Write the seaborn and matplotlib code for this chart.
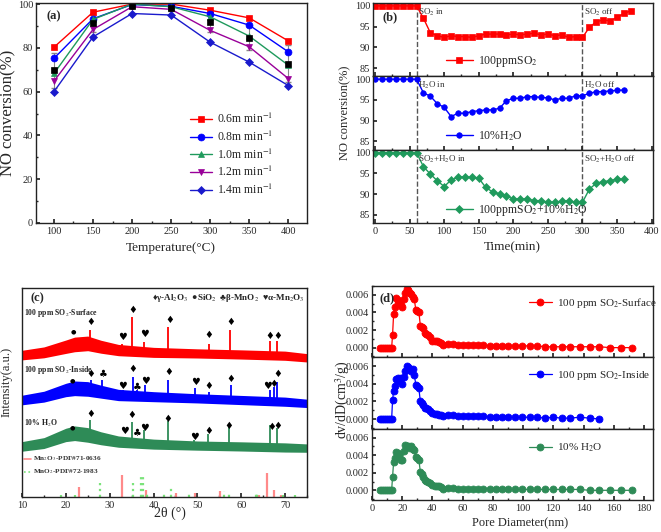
import numpy as np
import pandas as pd
import matplotlib
matplotlib.use("Agg")
import matplotlib.pyplot as plt
import seaborn as sns
from matplotlib.ticker import MultipleLocator, FormatStrFormatter

# ---------- (a) NO conversion vs temperature ----------
temps = [100, 150, 200, 250, 300, 350, 400]
conv_06 = [80.3, 96.3, 100, 100, 97.2, 93.7, 83.2]
conv_08 = [75.2, 93.3, 99.8, 99.0, 95.7, 90.4, 78.2]
conv_10 = [68.3, 93.0, 100, 98.8, 94.2, 85.4, 72.1]
conv_12 = [64.8, 88.4, 98.8, 97.6, 88.0, 80.5, 66.0]
conv_14 = [60.0, 85.0, 95.7, 95.0, 82.6, 73.5, 62.8]
conv_avg = [69.7, 91.2, 99.0, 98.2, 91.9, 84.6, 72.7]
err_avg = [8, 4, 1, 1.5, 4.5, 5.5, 8.5]
flow_labels = ["0.6m min$^{-1}$", "0.8m min$^{-1}$", "1.0m min$^{-1}$",
               "1.2m min$^{-1}$", "1.4m min$^{-1}$"]

# ---------- (b) NO conversion vs time ----------
time_min = list(range(0, 380, 10))
so2_conv = [100, 100, 100, 100, 100, 100, 100, 97.0, 93.5, 92.8, 92.4, 92.8,
            92.6, 92.6, 92.4, 92.8, 93.2, 93.2, 93.2, 93.0, 93.2, 93.0, 93.2,
            93.4, 93.0, 93.2, 92.8, 93.0, 92.4, 92.6, 92.4, 94.8, 96.2, 96.6,
            96.4, 97.2, 98.2, 98.8]
h2o_conv = [100, 100, 100, 100, 100, 100, 100, 96.7, 95.9, 94.1, 93.2, 91.0,
            91.8, 91.8, 92.2, 92.4, 92.6, 92.6, 93.0, 94.8, 95.4, 95.4, 95.8,
            95.8, 95.6, 95.5, 95.0, 95.4, 95.4, 96.0, 96.0, 96.6, 97.0, 97.0,
            97.2, 97.3, 97.4]
mix_conv = [100, 100, 100, 100, 100, 100, 100, 96.6, 94.8, 93.2, 91.8, 93.4,
            94.0, 94.2, 94.0, 93.8, 91.6, 90.5, 90.0, 89.5, 88.8, 88.8, 88.8,
            88.4, 88.4, 88.0, 88.0, 88.2, 88.4, 88.0, 88.0, 91.2, 92.6, 93.0,
            93.2, 93.6, 93.6]

# ---------- (c) XRD ----------
xrd_x = [10, 15, 20, 22, 25, 28, 32, 40, 50, 60, 70, 75]
surf_mid = [67.9, 69.2, 71.9, 73.0, 73.5, 71.9, 70.3, 69.2, 68.7, 68.2, 67.6, 66.6]
inside_mid = [46.4, 48.0, 51.2, 52.0, 51.7, 50.4, 48.8, 48.0, 47.2, 46.4, 45.6, 44.8]
h2o_mid = [24.2, 25.8, 29.7, 30.5, 29.7, 28.1, 26.5, 25.3, 24.6, 24.2, 23.7, 23.4]
band_half = [2.3, 2.6, 3.2, 3.5, 3.5, 3.1, 2.7, 2.4, 2.2, 2.2, 2.2, 2.0]

surf_peak_x = [21.8, 25.6, 32.9, 35.2, 37.8, 43.3, 52.6, 57.4, 66.5, 68.1]
surf_peak_top = [75.5, 80.0, 73.4, 86.2, 74.0, 81.4, 73.4, 79.8, 74.6, 74.6]
inside_peak_x = [21.8, 25.8, 28.3, 33.0, 35.4, 36.3, 38.0, 43.4, 49.4, 52.7,
                 57.6, 66.5, 67.4, 68.2]
inside_peak_top = [54.4, 56.0, 56.0, 51.2, 57.6, 51.0, 53.6, 56.0, 52.3, 50.4,
                   53.6, 51.2, 52.8, 55.2]
h2o_peak_x = [21.8, 25.5, 35.1, 37.8, 43.2, 49.3, 52.5, 57.3, 66.5, 68.1]
h2o_peak_top = [31.0, 36.9, 36.1, 32.1, 36.4, 27.3, 30.2, 34.5, 34.5, 32.9]

mn2o3_ref_x = [23.1, 32.9, 38.2, 45.2, 49.4, 55.2, 64.0, 65.8, 67.4, 69.0]
mn2o3_ref_h = [5.0, 10.5, 3.5, 1.8, 2.0, 2.7, 1.0, 11.5, 3.5, 0.8]
mno2_ref_x = [19.0, 22.2, 27.7, 35.3, 37.2, 37.5, 38.6, 42.3, 43.9, 48.0,
              56.0, 57.2, 63.3, 63.7, 69.5, 72.3]
mno2_ref_h = [1.0, 1.0, 7.3, 7.0, 10.0, 10.5, 1.5, 2.5, 5.5, 1.5, 3.0, 2.0,
              2.0, 1.5, 0.8, 1.0]

al2o3_mark = [(25.7, 83.5), (35.2, 89.7), (43.6, 84.9), (52.7, 77.4), (57.7, 83.5),
              (66.6, 77.1), (68.3, 77.0), (25.7, 59.0), (35.2, 61.4), (43.4, 59.6),
              (52.7, 53.3), (57.5, 56.4), (67.3, 54.1), (68.3, 58.7), (25.6, 39.7),
              (35.1, 39.0), (43.3, 37.4), (52.5, 31.6), (57.2, 34.0), (67.0, 33.7),
              (68.3, 34.2)]
sio2_mark = [(21.8, 79.0), (21.6, 55.5), (21.6, 33.2)]
mno2_mark = [(28.5, 58.7), (36.2, 52.8), (36.2, 30.5)]
mn2o3_mark = [(32.9, 76.6), (38.0, 78.2), (33.0, 53.3), (38.1, 55.6), (49.6, 54.8),
              (66.1, 52.9), (33.3, 31.8), (37.9, 33.2), (49.3, 28.6)]

# ---------- (d) pore size distribution ----------
pore_d = [5.5, 6.9, 8.2, 9.5, 10.8, 12.1, 13.0,
          13.6, 14.3, 15, 16, 17, 18, 19, 20, 21, 22, 23, 24, 25, 26, 27, 28,
          29, 30, 31, 32, 33, 34, 35, 36, 37, 38.5, 40, 41.5, 43, 44.5, 46,
          47, 50.4, 53.7, 57, 60.3, 63.6, 67, 70.2, 73.6, 78, 82.4, 86, 90,
          94.5, 99.5, 104.5, 109.5, 114.5, 120, 125.5, 131, 137.5, 144, 150.5,
          157.5, 165, 172]
dvdd_surface = [0, 0, 0, 0, 0, 0, 0,
                0.0014, 0.0038, 0.0046, 0.0056, 0.0054, 0.0052, 0.0048, 0.0046,
                0.0055, 0.0062, 0.0067, 0.0065, 0.0062, 0.0061, 0.0058, 0.0055,
                0.0043, 0.0042, 0.0041, 0.0025, 0.0023, 0.0022, 0.0017, 0.0016,
                0.0014, 0.0012, 0.0008, 0.0008, 0.0007, 0.0006, 0.0005,
                0.0003, 0.0004, 0.0004, 0.0003, 0.0003, 0.0003, 0.0003, 0.0003,
                0.0003, 0.0002, 0.0002, 0.0002, 0.0002, 0.0002, 0.0002, 0.0002,
                0.0002, 0.0001, 0.0001, 0.0001, 0.0001, 0.0001, 0.0001, 0.0001,
                0.0000, 0.0000, 0.0000]
dvdd_inside = [0, 0, 0, 0, 0, 0, 0,
               0.0021, 0.0032, 0.0038, 0.0045, 0.0046, 0.0043, 0.0046, 0.0040,
               0.0048, 0.0054, 0.0060, 0.0059, 0.0057, 0.0055, 0.0057, 0.0050,
               0.0039, 0.0038, 0.0035, 0.0020, 0.0018, 0.0016, 0.0013, 0.0012,
               0.0011, 0.0009, 0.0007, 0.0006, 0.0006, 0.0005, 0.0005,
               0.0003, 0.0004, 0.0004, 0.0003, 0.0003, 0.0003, 0.0003, 0.0003,
               0.0003, 0.0002, 0.0002, 0.0002, 0.0002, 0.0002, 0.0002, 0.0002,
               0.0002, 0.0001, 0.0002, 0.0001, 0.0001, 0.0002, 0.0001, 0.0000]
dvdd_h2o = [0, 0, 0, 0, 0, 0, 0,
            0.0015, 0.0032, 0.0037, 0.0044, 0.0042, 0.0040, 0.0034, 0.0034,
            0.0045, 0.0051, 0.0050, 0.0050, 0.0048, 0.0050, 0.0047, 0.0046,
            0.0038, 0.0037, 0.0035, 0.0021, 0.0018, 0.0015, 0.0012, 0.0011,
            0.0010, 0.0008, 0.0006, 0.0005, 0.0005, 0.0005, 0.0004,
            0.0002, 0.0003, 0.0003, 0.0002, 0.0002, 0.0002, 0.0002, 0.0002,
            0.0002, 0.0002, 0.0001, 0.0001, 0.0001, 0.0001, 0.0001, 0.0001,
            0.0001, 0.0001, 0.0001, 0.0001, 0.0001, 0.0001, 0.0000, 0.0000,
            0.0000, 0.0000, 0.0000]

RED, BLUE, GREEN, PURPLE, NAVY = "#ff0000", "#0000ff", "#1f9a5c", "#990099", "#1a1acc"

sns.set_theme(style="ticks")
plt.rcParams["font.family"] = ["Liberation Serif", "DejaVu Sans"]
plt.rcParams.update({
    "mathtext.fontset": "stix",
    "axes.linewidth": 1.0,
    "axes.edgecolor": "#222222",
    "xtick.direction": "in", "ytick.direction": "in",
    "xtick.major.size": 3, "ytick.major.size": 3,
    "xtick.minor.size": 1.6, "ytick.minor.size": 1.6,
    "xtick.labelsize": 7.5, "ytick.labelsize": 7.5,
    "xtick.major.pad": 3, "ytick.major.pad": 2,
})

W, H = 661, 532
fig = plt.figure(figsize=(W / 100, H / 100), dpi=100)


def px_axes(left, top, right, bottom):
    return fig.add_axes([left / W, 1 - bottom / H, (right - left) / W, (bottom - top) / H])


def series(ax, x, y, color, marker, ms, label=None, lw=1.0):
    sns.lineplot(x=x, y=y, ax=ax, color=color, marker=marker, markersize=ms,
                 markeredgecolor=color, markeredgewidth=0.5, linewidth=lw,
                 label=label, legend=False)


# ===== (a) =====
ax = px_axes(36, 3, 307, 223)
ax.errorbar(temps, conv_avg, yerr=err_avg, fmt="none", ecolor="#888888",
            elinewidth=0.8, capsize=2, zorder=1)
series(ax, temps, conv_06, RED, "s", 4.5, flow_labels[0])
series(ax, temps, conv_08, BLUE, "o", 5, flow_labels[1])
series(ax, temps, conv_10, GREEN, "^", 5, flow_labels[2])
series(ax, temps, conv_12, PURPLE, "v", 5, flow_labels[3])
series(ax, temps, conv_14, NAVY, "D", 4, flow_labels[4])
series(ax, temps, conv_avg, "#000000", "s", 4.5, None, lw=0)
ax.set_xlim(77, 424)
ax.set_ylim(0, 100.5)
ax.xaxis.set_major_locator(MultipleLocator(50))
ax.xaxis.set_minor_locator(MultipleLocator(25))
ax.yaxis.set_major_locator(MultipleLocator(20))
ax.yaxis.set_minor_locator(MultipleLocator(10))
ax.set_xlabel("")
ax.set_ylabel("")
ax.legend(loc="upper left", bbox_to_anchor=(0.53, 0.555), frameon=False,
          fontsize=8.5, handlelength=1.8, labelspacing=0.3, handletextpad=0.5)
ax.text(0.04, 0.94, "(a)", transform=ax.transAxes, fontsize=9, fontweight="bold",
        va="center")
fig.text(8 / W, 1 - 113 / H, "NO conversion(%)", rotation=90, fontsize=12,
         ha="center", va="center")
fig.text(171 / W, 1 - 248 / H, "Temperature(\u00b0C)", fontsize=9.5, ha="center",
         va="center")

# ===== (b) =====
b_rows = [(3, 76.3), (76.3, 149.7), (149.7, 223)]
b_data = [
    (so2_conv, RED, "s", 3.8, "100ppmSO$_2$", "SO$_2$ in", "SO$_2$ off", 0.20),
    (h2o_conv, BLUE, "o", 4, "10%H$_2$O", "H$_2$O in", "H$_2$O off", 0.19),
    (mix_conv, GREEN, "D", 3.8, "100ppmSO$_2$+10%H$_2$O", "SO$_2$+H$_2$O in",
     "SO$_2$+H$_2$O off", 0.17),
]
for i, ((top, bot), (vals, col, mk, ms, lab, t_in, t_off, ly)) in enumerate(zip(b_rows, b_data)):
    axb = px_axes(373, top, 653, bot)
    series(axb, time_min[:len(vals)], vals, col, mk, ms, lab)
    axb.axvline(60, color="#555555", ls="--", lw=1.0, zorder=0)
    axb.axvline(300, color="#555555", ls="--", lw=1.0, zorder=0)
    axb.set_xlim(-3, 402)
    axb.set_ylim(83, 100.7)
    axb.xaxis.set_major_locator(MultipleLocator(50))
    axb.xaxis.set_minor_locator(MultipleLocator(25))
    axb.yaxis.set_major_locator(MultipleLocator(5))
    axb.set_xlabel("")
    axb.set_ylabel("")
    if i < 2:
        axb.tick_params(axis="x", labelbottom=False)
    axb.text(62, 98.4, t_in, fontsize=6.5, va="center", color="#333333")
    axb.text(302, 98.4, t_off, fontsize=6.5, va="center", color="#333333")
    axb.legend(loc="center left", bbox_to_anchor=(0.26, ly), frameon=False,
               fontsize=8.5, handlelength=2.3, handletextpad=0.4,
               borderaxespad=0, borderpad=0)
    if i == 0:
        axb.text(0.035, 0.8, "(b)", transform=axb.transAxes, fontsize=9,
                 fontweight="bold", va="center")
fig.text(345 / W, 1 - 113 / H, "NO conversion(%)", rotation=90, fontsize=9,
         ha="center", va="center")
fig.text(512 / W, 1 - 247 / H, "Time(min)", fontsize=9.5, ha="center", va="center")

# ===== (c) =====
axc = px_axes(22, 288, 307, 497)
for mid, col, pk_x, pk_top in [(surf_mid, RED, surf_peak_x, surf_peak_top),
                               (inside_mid, BLUE, inside_peak_x, inside_peak_top),
                               (h2o_mid, "#2e8b57", h2o_peak_x, h2o_peak_top)]:
    lo = np.array(mid) - np.array(band_half)
    hi = np.array(mid) + np.array(band_half)
    axc.fill_between(xrd_x, lo, hi, color=col, lw=0)
    sns.lineplot(x=xrd_x, y=mid, ax=axc, color=col, lw=1.0)
    axc.vlines(pk_x, np.interp(pk_x, xrd_x, mid), pk_top, color=col, lw=1.3)
axc.vlines(mn2o3_ref_x, 0, mn2o3_ref_h, color="#ff8a8a", lw=1.6)
axc.vlines(mno2_ref_x, 0, mno2_ref_h, color="#7be37b", lw=1.6, linestyles=":")
for marks, sym, fs in [(al2o3_mark, "\u2666", 7), (sio2_mark, "\u25cf", 4.5),
                       (mno2_mark, "\u2663", 7), (mn2o3_mark, "\u2665", 7)]:
    for mx, my in marks:
        axc.text(mx, my, sym, fontsize=fs, ha="center", va="center",
                 family=["DejaVu Sans"], color="black")
axc.set_xlim(10, 75)
axc.set_ylim(0, 100)
axc.set_yticks([])
axc.xaxis.set_major_locator(MultipleLocator(10))
axc.xaxis.set_minor_locator(MultipleLocator(5))
axc.set_xlabel("")
axc.set_ylabel("")
axc.text(0.03, 0.95, "(c)", transform=axc.transAxes, fontsize=9, fontweight="bold",
         va="center")
axc.text(0.99, 0.95, "\u2666\u03b3-Al$_2$O$_3$  \u25cfSiO$_2$  \u2663\u03b2-MnO$_2$  "
         "\u2665\u03b1-Mn$_2$O$_3$", transform=axc.transAxes, fontsize=6.5,
         fontweight="bold", ha="right", va="center")
for yy, lab in [(0.88, "100 ppm SO$_2$-Surface"), (0.61, "100 ppm SO$_2$-Inside"),
                (0.35, "10% H$_2$O")]:
    axc.text(0.007, yy, lab, transform=axc.transAxes, fontsize=5.6,
             fontweight="bold", va="center")
axc.plot([0.007, 0.03], [0.182, 0.182], transform=axc.transAxes, color="#ff8a8a", lw=1.2)
axc.plot([0.007, 0.03], [0.12, 0.12], transform=axc.transAxes, color="#7be37b",
         lw=1.2, ls=":")
axc.text(0.04, 0.182, "Mn$_2$O$_3$-PDF#71-0636", transform=axc.transAxes,
         fontsize=5.2, fontweight="bold", va="center", color="#333333")
axc.text(0.04, 0.12, "MnO$_2$-PDF#72-1983", transform=axc.transAxes,
         fontsize=5.2, fontweight="bold", va="center", color="#333333")
fig.text(7 / W, 1 - 382 / H, "Intensity(a.u.)", rotation=90, fontsize=9,
         ha="center", va="center")
fig.text(170 / W, 1 - 513 / H, "2\u03b8 (\u00b0)", fontsize=10, ha="center",
         va="center")

# ===== (d) =====
d_rows = [(286, 357.3), (357.3, 428.7), (428.7, 500)]
d_data = [(dvdd_surface, RED, "100 ppm SO$_2$-Surface", 0.76),
          (dvdd_inside, BLUE, "100 ppm SO$_2$-Inside", 0.75),
          (dvdd_h2o, "#2e8b57", "10% H$_2$O", 0.73)]
for i, ((top, bot), (vals, col, lab, ly)) in enumerate(zip(d_rows, d_data)):
    axd = px_axes(372, top, 653, bot)
    sns.lineplot(x=pore_d[:len(vals)], y=vals, ax=axd, color=col, marker="o",
                 markersize=5, markeredgecolor=col, markerfacecolor=col,
                 markeredgewidth=0.6, linewidth=0.9, label=lab, legend=False)
    axd.set_xlim(0, 186)
    axd.set_ylim(-0.0011, 0.007)
    axd.xaxis.set_major_locator(MultipleLocator(20))
    axd.xaxis.set_minor_locator(MultipleLocator(10))
    axd.yaxis.set_major_locator(MultipleLocator(0.002))
    axd.yaxis.set_minor_locator(MultipleLocator(0.001))
    axd.yaxis.set_major_formatter(FormatStrFormatter("%.3f"))
    axd.set_xlabel("")
    axd.set_ylabel("")
    if i < 2:
        axd.tick_params(axis="x", labelbottom=False)
    axd.legend(loc="center left", bbox_to_anchor=(0.56, ly), frameon=False,
               fontsize=8, handlelength=2.0, handletextpad=0.5,
               borderaxespad=0, borderpad=0)
    if i == 0:
        axd.text(0.025, 0.83, "(d)", transform=axd.transAxes, fontsize=9,
                 fontweight="bold", va="center")
fig.text(343 / W, 1 - 400 / H, "dv/dD(cm$^3$/g)", rotation=90, fontsize=10,
         ha="center", va="center")
fig.text(520 / W, 1 - 523 / H, "Pore Diameter(nm)", fontsize=9, ha="center",
         va="center")

fig.savefig("out.png", dpi=100)
